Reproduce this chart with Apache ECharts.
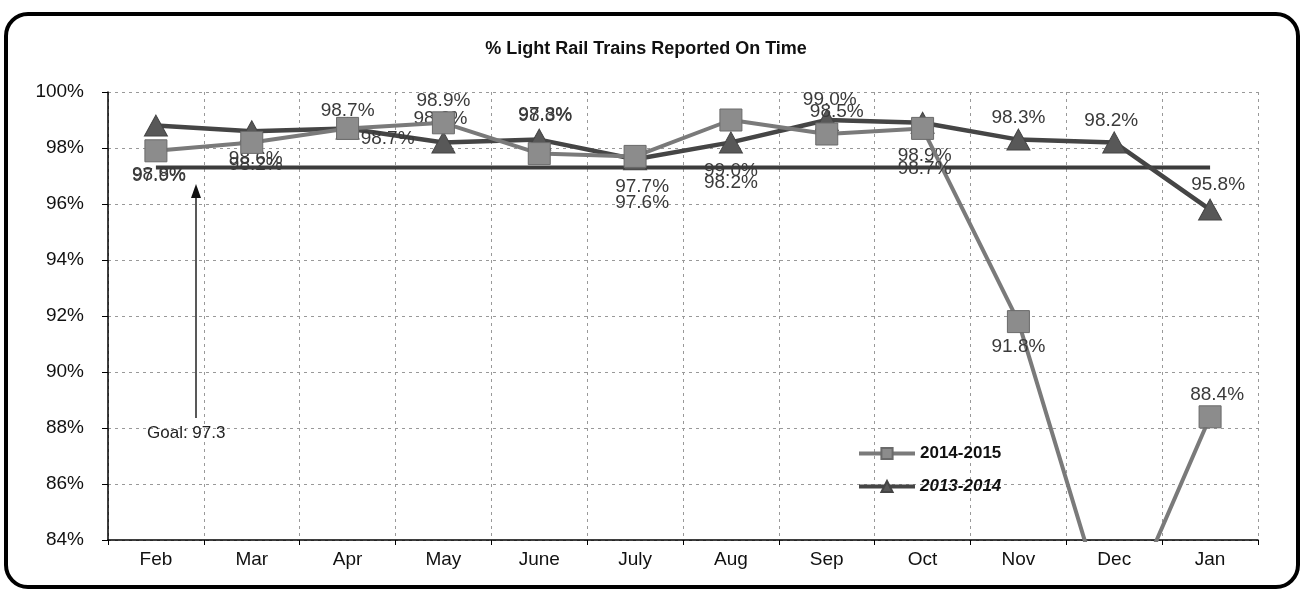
<!DOCTYPE html>
<html>
<head>
<meta charset="utf-8">
<script src="https://cdn.jsdelivr.net/npm/echarts@6/dist/echarts.min.js"></script>
<style>
html,body{margin:0;padding:0;background:#fff;}
#chart{width:1304px;height:596px;}
</style>
</head>
<body>
<div id="chart"></div>
<script>
// ---- data ----
const categories = ['Feb','Mar','Apr','May','June','July','Aug','Sep','Oct','Nov','Dec','Jan'];
const series2014_2015 = [97.9, 98.2, 98.7, 98.9, 97.8, 97.7, 99.0, 98.5, 98.7, 91.8, 80.5, 88.4];
const series2013_2014 = [98.8, 98.6, 98.7, 98.2, 98.3, 97.6, 98.2, 99.0, 98.9, 98.3, 98.2, 95.8];
const goalValue = 97.3;
const goalLine = categories.map(() => goalValue);
const yTickMin = 84, yTickMax = 100, yTickStep = 2;

// label offsets from each marker centre (style only, px)
const labelOff1415 = [[3,25],[4,22],[0,-18],[0,-22],[6,-39],[7,30],[0,51],[10,-22],[2,40],[0,25],[0,0],[7,-22]];
const labelOff1314 = [[3,49],[4,28],[40,10],[-3,-24],[6,-24],[7,44],[0,40],[3,-20],[2,33],[0,-22],[-3,-22],[8,-25]];

const chart = echarts.init(document.getElementById('chart'));

function buildData(vals, offs) {
  return vals.map((v, i) => ({
    value: v,
    label: { show: v >= yTickMin, position: 'inside', offset: offs[i] }
  }));
}

const labelStyle = {
  formatter: p => p.value.toFixed(1) + '%',
  fontFamily: 'Liberation Sans',
  fontSize: 19,
  color: '#3a3a3a'
};

chart.setOption({
  animation: false,
  backgroundColor: '#fff',
  title: {
    text: '% Light Rail Trains Reported On Time',
    left: 641, top: 35, textAlign: 'center',
    textStyle: { fontFamily: 'Liberation Sans', fontSize: 18, fontWeight: 'bold', color: '#111' }
  },
  grid: { left: 108, right: 46, top: 92, bottom: 56 },
  legend: {
    left: 852, top: 440, orient: 'vertical', itemGap: 16,
    itemWidth: 56, itemHeight: 14,
    lineStyle: { width: 4 },
    data: [
      { name: '2014-2015', textStyle: { fontStyle: 'normal' } },
      { name: '2013-2014', textStyle: { fontStyle: 'italic' } }
    ],
    textStyle: { fontFamily: 'Liberation Sans', fontSize: 17, fontWeight: 'bold', color: '#111' }
  },
  xAxis: {
    type: 'category', data: categories, boundaryGap: true,
    axisLine: { lineStyle: { color: '#000', width: 1.5 } },
    axisTick: { show: true, length: 5, lineStyle: { color: '#000' } },
    axisLabel: { fontFamily: 'Liberation Sans', fontSize: 19, color: '#111', margin: 10 },
    splitLine: { show: true, lineStyle: { color: '#999', type: [3, 4], width: 1 } }
  },
  yAxis: {
    type: 'value', min: yTickMin, max: yTickMax, interval: yTickStep,
    axisLine: { show: true, lineStyle: { color: '#000', width: 1.5 } },
    axisTick: { show: true, length: 6, lineStyle: { color: '#000' } },
    axisLabel: { fontFamily: 'Liberation Sans', fontSize: 19, color: '#111', margin: 24, formatter: v => v + '%' },
    splitLine: { show: true, lineStyle: { color: '#999', type: [3, 4], width: 1 } }
  },
  series: [
    {
      name: 'Goal', type: 'line', data: goalLine, symbol: 'none',
      lineStyle: { color: '#3c3c3c', width: 4 }, z: 1, silent: true
    },
    {
      name: '2014-2015', type: 'line', data: buildData(series2014_2015, labelOff1415),
      symbol: 'rect', symbolSize: 22,
      itemStyle: { color: '#8c8c8c', borderColor: '#6a6a6a', borderWidth: 1 },
      lineStyle: { color: '#7a7a7a', width: 4 },
      label: labelStyle, z: 3
    },
    {
      name: '2013-2014', type: 'line', data: buildData(series2013_2014, labelOff1314),
      symbol: 'triangle', symbolSize: [23, 21],
      itemStyle: { color: '#585858', borderColor: '#444', borderWidth: 1 },
      lineStyle: { color: '#454545', width: 4.5 },
      label: labelStyle, z: 2
    }
  ],
  graphic: [
    { type: 'rect', shape: { x: 6, y: 14, width: 1292, height: 573, r: 22 },
      style: { fill: 'none', stroke: '#000', lineWidth: 4 }, z: 100, silent: true },
    { type: 'line', shape: { x1: 196, y1: 418, x2: 196, y2: 195 },
      style: { stroke: '#222', lineWidth: 1.5 }, z: 50 },
    { type: 'polygon', shape: { points: [[196, 184], [191, 198], [201, 198]] },
      style: { fill: '#111' }, z: 50 },
    { type: 'text', left: 147, top: 425,
      style: { text: 'Goal: 97.3', font: '17px "Liberation Sans"', fill: '#222' }, z: 50 }
  ]
});
</script>
</body>
</html>
